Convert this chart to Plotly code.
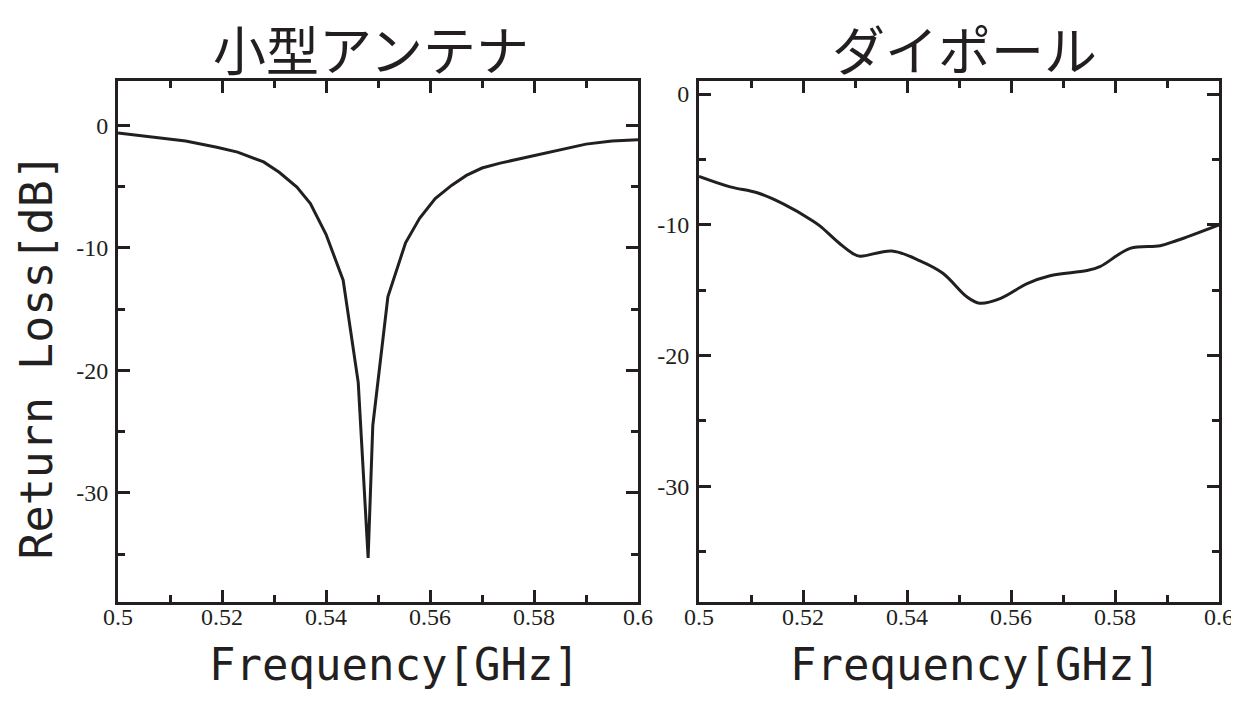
import plotly.graph_objects as go

# ---- data ----
small_freq = [0.500, 0.507, 0.513, 0.519, 0.523, 0.528, 0.531, 0.5344, 0.537, 0.540,
              0.5433, 0.5462, 0.5481, 0.549, 0.5519, 0.5553, 0.558, 0.561, 0.5642,
              0.567, 0.570, 0.5735, 0.5787, 0.585, 0.590, 0.595, 0.600]
small_rl = [-0.65, -0.98, -1.3, -1.8, -2.2, -3.0, -3.85, -5.05, -6.4, -8.9,
            -12.65, -21.0, -35.3, -24.5, -14.0, -9.6, -7.6, -6.0, -4.9,
            -4.1, -3.5, -3.1, -2.6, -2.0, -1.55, -1.3, -1.2]

dipole_freq = [0.500, 0.506, 0.5112, 0.5162, 0.5219, 0.5233, 0.5271, 0.5296, 0.531,
               0.5371, 0.5425, 0.5469, 0.5515, 0.554, 0.5579, 0.5631, 0.5675,
               0.5746, 0.5771, 0.5829, 0.5887, 0.5919, 0.600]
dipole_rl = [-6.3, -7.1, -7.55, -8.4, -9.7, -10.1, -11.45, -12.2, -12.4,
             -12.0, -12.75, -13.7, -15.5, -16.0, -15.65, -14.5, -13.9,
             -13.5, -13.2, -11.8, -11.6, -11.2, -10.0]

x_tick_vals = [0.50, 0.52, 0.54, 0.56, 0.58, 0.60]
x_tick_text = ["0.5", "0.52", "0.54", "0.56", "0.58", "0.6"]
x_minor_vals = [0.51, 0.53, 0.55, 0.57, 0.59]
y_tick_vals = [0, -10, -20, -30]
y_tick_text = ["0", "-10", "-20", "-30"]
y_minor_vals = [-5, -15, -25, -35]

titles = ["小型アンテナ", "ダイポール"]
x_title = "Frequency[GHz]"
y_title = "Return Loss[dB]"

INK = "#231f20"

fig = go.Figure()
fig.add_trace(go.Scatter(x=small_freq, y=small_rl, mode="lines",
                         line=dict(color=INK, width=3), xaxis="x", yaxis="y",
                         showlegend=False))
fig.add_trace(go.Scatter(x=dipole_freq, y=dipole_rl, mode="lines",
                         line=dict(color=INK, width=3, shape="spline", smoothing=1.0),
                         xaxis="x2", yaxis="y2", showlegend=False))

tickfont = dict(family="Liberation Serif", size=24, color=INK)

def xax(domain, anchor):
    return dict(domain=domain, anchor=anchor, range=[0.5, 0.6], automargin=False,
                showline=True, linewidth=3, linecolor=INK, mirror="ticks",
                ticks="inside", ticklen=12, tickwidth=2.5, tickcolor=INK,
                tickmode="array", tickvals=x_tick_vals, ticktext=x_tick_text,
                ticklabelstandoff=-9,
                minor=dict(tickmode="array", tickvals=x_minor_vals, ticks="inside",
                           ticklen=7, tickwidth=2.5, tickcolor=INK),
                showgrid=False, zeroline=False, tickfont=tickfont)

def yax(domain, anchor, rng):
    return dict(domain=domain, anchor=anchor, range=rng, automargin=False,
                showline=True, linewidth=3, linecolor=INK, mirror="ticks",
                ticks="inside", ticklen=12, tickwidth=2.5, tickcolor=INK,
                tickmode="array", tickvals=y_tick_vals, ticktext=y_tick_text,
                ticklabelstandoff=2,
                minor=dict(tickmode="array", tickvals=y_minor_vals, ticks="inside",
                           ticklen=7, tickwidth=2.5, tickcolor=INK),
                showgrid=False, zeroline=False, tickfont=tickfont)

ydom = [0.13663, 0.89390]
fig.update_layout(
    width=1260, height=688,
    margin=dict(l=0, r=0, t=0, b=0),
    paper_bgcolor="white", plot_bgcolor="white",
    xaxis=xax([0.087302, 0.5], "y"),
    yaxis=yax(ydom, "x", [-38.9, 3.6]),
    xaxis2=xax([0.548413, 0.961111], "y2"),
    yaxis2=yax(ydom, "x2", [-38.85, 1.0]),
)

title_font = dict(family="Noto Sans CJK JP", size=53, color=INK)
xlabel_font = dict(family="DejaVu Sans Mono", size=44, color=INK)
ylabel_font = dict(family="DejaVu Sans Mono", size=45, color=INK)
fig.add_annotation(text=titles[0], x=0.28810, y=1.0, xref="paper", yref="paper",
                   showarrow=False, xanchor="center", yanchor="top", font=title_font)
fig.add_annotation(text=titles[1], x=0.75952, y=1.0, xref="paper", yref="paper",
                   showarrow=False, xanchor="center", yanchor="top", font=title_font)
fig.add_annotation(text=x_title, x=0.30635, y=0.0451, xref="paper", yref="paper",
                   showarrow=False, xanchor="center", yanchor="middle", font=xlabel_font)
fig.add_annotation(text=x_title, x=0.76825, y=0.0451, xref="paper", yref="paper",
                   showarrow=False, xanchor="center", yanchor="middle", font=xlabel_font)
fig.add_annotation(text=y_title, x=0.0, y=0.4927, xref="paper", yref="paper",
                   showarrow=False, xanchor="left", yanchor="middle", textangle=-90,
                   font=ylabel_font)

fig.write_html(
    "out.html",
    post_script="document.documentElement.style.overflow='hidden';"
                "document.body.style.overflow='hidden';",
)
